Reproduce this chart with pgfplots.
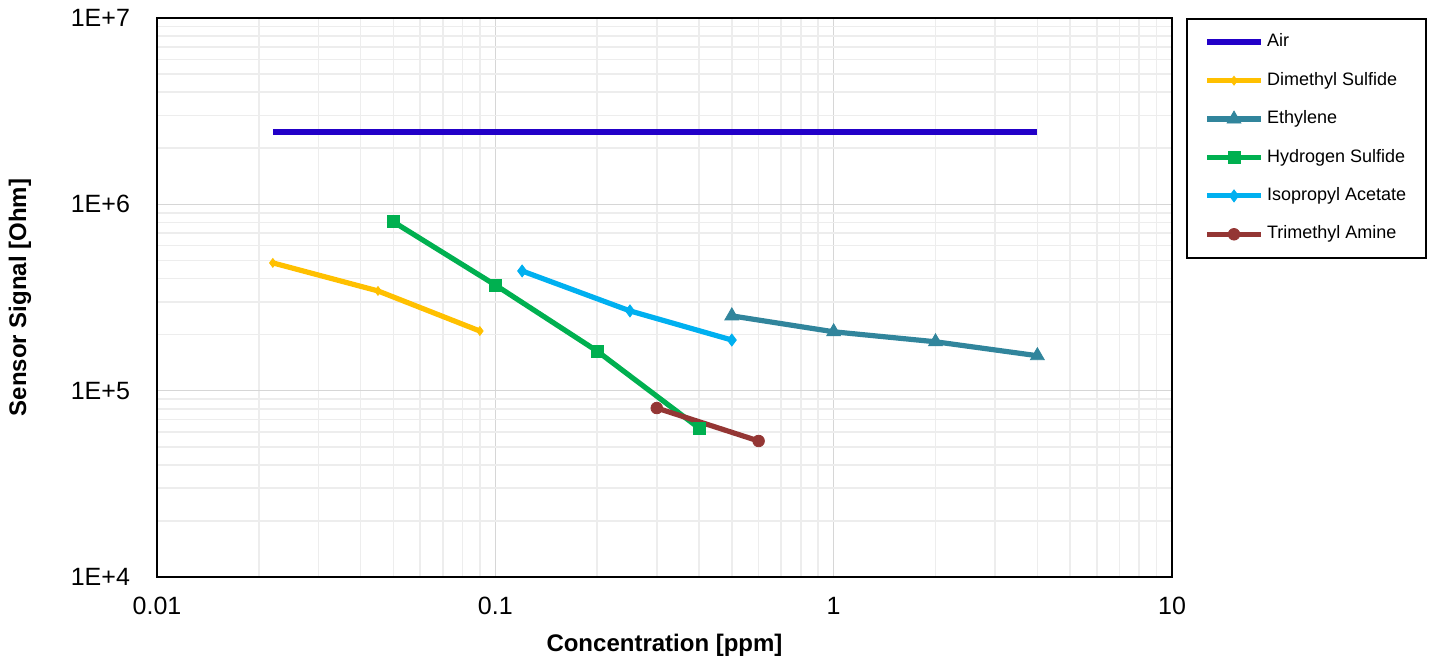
\documentclass[border=0pt]{standalone}
\usepackage{fontspec}
\setmainfont{Liberation Sans}
\usepackage{pgfplots}
\pgfplotsset{compat=1.18}
\definecolor{cAir}{HTML}{2200C8}
\definecolor{cDMS}{HTML}{FFC000}
\definecolor{cEth}{HTML}{31859C}
\definecolor{cHS}{HTML}{00B050}
\definecolor{cIPA}{HTML}{00B0F0}
\definecolor{cTMA}{HTML}{943634}
\begin{document}
\begin{tikzpicture}
\begin{axis}[
  scale only axis,
  width=507.5pt, height=279.5pt,
  xmode=log, ymode=log,
  xmin=0.01, xmax=10, ymin=1e4, ymax=1e7,
  xtick={0.01,0.1,1,10}, xticklabels={0.01,0.1,1,10},
  ytick={1e4,1e5,1e6,1e7}, yticklabels={1E+4,1E+5,1E+6,1E+7},
  /pgf/number format/assume math mode=true,
  tick style={draw=none},
  ticklabel style={font=\fontsize{12.5}{14}\selectfont},
  xticklabel style={yshift=-6.5pt},
  yticklabel style={xshift=-10pt},
  grid=both,
  major grid style={draw=black!16, line width=0.8pt},
  minor grid style={draw=black!7, line width=0.8pt},
  axis line style={black, line width=0.8pt},
  xlabel={\textbf{Concentration [ppm]}},
  ylabel={\textbf{Sensor Signal [Ohm]}},
  label style={font=\fontsize{12}{14}\selectfont},
  xlabel style={at={(axis description cs:0.5,-0.1216)}, anchor=center},
  ylabel style={at={(axis description cs:-0.135,0.5)}, anchor=center},
  every axis plot/.append style={line width=2.6pt},
  legend style={at={(1.014,1)}, anchor=north west, draw=black, line width=0.8pt,
    font=\fontsize{9}{10}\selectfont, row sep=10.9pt, inner xsep=8.5pt, inner ysep=7.6pt,
    nodes={inner xsep=1.5pt, inner ysep=0pt, text height=6.5pt, text depth=1.8pt}},
  legend cell align=left,
  legend image code/.code={
    \draw[#1, mark repeat=2, mark phase=2] plot coordinates {(0pt,0pt) (13.5pt,0pt) (27pt,0pt)};},
]
\addplot[cAir, line width=3pt, mark=none] coordinates {(0.022,2.45e6) (4,2.45e6)};
\addlegendentry{Air}
\addplot[cDMS, mark=diamond*, mark size=2.2pt, mark options={line width=0.4pt}] coordinates {
  (0.022,4.85e5) (0.045,3.43e5) (0.09,2.09e5)};
\addlegendentry{Dimethyl Sulfide}
\addplot[cEth, mark=triangle*, mark size=4pt, mark options={line width=0.4pt}] coordinates {
  (0.5,2.52e5) (1,2.07e5) (2,1.83e5) (4,1.54e5)};
\addlegendentry{Ethylene}
\addplot[cHS, mark=square*, mark size=3pt, mark options={line width=0.4pt}] coordinates {
  (0.05,8.05e5) (0.1,3.69e5) (0.2,1.63e5) (0.4,6.3e4)};
\addlegendentry{Hydrogen Sulfide}
\addplot[cIPA, mark=diamond*, mark size=3pt, mark options={line width=0.4pt}] coordinates {
  (0.12,4.39e5) (0.25,2.68e5) (0.5,1.87e5)};
\addlegendentry{Isopropyl Acetate}
\addplot[cTMA, mark=*, mark size=2.9pt, mark options={line width=0.4pt}] coordinates {
  (0.3,8.07e4) (0.6,5.37e4)};
\addlegendentry{Trimethyl Amine}
\end{axis}
\path (current axis.north) ++(0,9pt);
\path (current axis.east) ++(130pt,0);
\path (current axis.west) ++(-78.5pt,0);
\end{tikzpicture}
\end{document}
